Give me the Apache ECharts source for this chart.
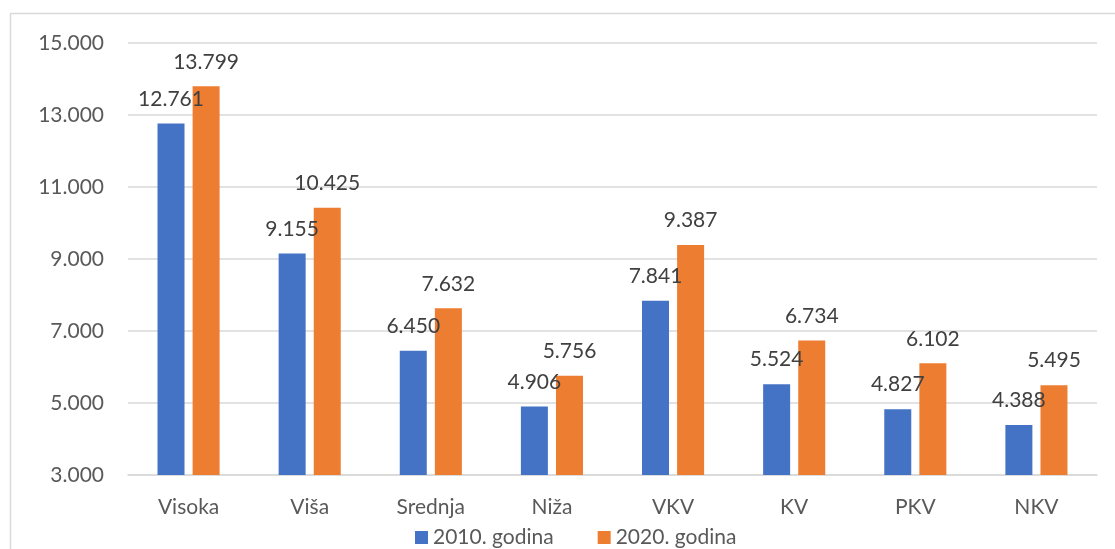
<!DOCTYPE html>
<html>
<head>
<meta charset="utf-8">
<script src="https://cdn.jsdelivr.net/npm/echarts@6/dist/echarts.min.js"></script>
<style>
  html, body { margin: 0; padding: 0; background: #fff; }
  #chart { width: 1115px; height: 549px; }
</style>
</head>
<body>
<div id="chart"></div>
<script>
const categories = ['Visoka', 'Viša', 'Srednja', 'Niža', 'VKV', 'KV', 'PKV', 'NKV']
const values2010 = [12761, 9155, 6450, 4906, 7841, 5524, 4827, 4388]
const values2020 = [13799, 10425, 7632, 5756, 9387, 6734, 6102, 5495]
const seriesNames = ['2010. godina', '2020. godina']

// tocka kao separator tisucica
const fmt = (v) => String(v).replace(/\B(?=(\d{3})+(?!\d))/g, '.')

const FONT = 'Lato'
const TEXT = '#595959'

const chart = echarts.init(document.getElementById('chart'))

const barLabel = {
  show: true,
  position: 'top',
  distance: 14,
  color: '#404040',
  fontFamily: FONT,
  fontSize: 21,
  formatter: (p) => fmt(p.value),
}

chart.setOption({
  animation: false,
  graphic: [
    {
      type: 'rect',
      shape: { x: 10.5, y: 13.5, width: 1200, height: 600 },
      style: { fill: 'none', stroke: '#d9d9d9', lineWidth: 1.5 },
      silent: true,
    },
  ],
  grid: { left: 128, right: 18, top: 43, bottom: 74 },
  legend: {
    left: 410,
    top: 522,
    itemWidth: 13,
    itemHeight: 13,
    itemGap: 44,
    icon: 'rect',
    textStyle: { color: TEXT, fontFamily: FONT, fontSize: 21 },
    data: seriesNames,
  },
  xAxis: {
    type: 'category',
    data: categories,
    axisLine: { show: true, lineStyle: { color: '#d9d9d9', width: 1.5 } },
    axisTick: { show: false },
    axisLabel: { color: TEXT, fontFamily: FONT, fontSize: 21, margin: 22 },
  },
  yAxis: {
    type: 'value',
    min: 3000,
    max: 15000,
    interval: 2000,
    axisLine: { show: false },
    axisTick: { show: false },
    axisLabel: {
      color: TEXT,
      fontFamily: FONT,
      fontSize: 21,
      margin: 24,
      formatter: (v) => fmt(v),
    },
    splitLine: { lineStyle: { color: '#d9d9d9', width: 1.5 } },
  },
  series: [
    {
      name: seriesNames[0],
      type: 'bar',
      data: values2010,
      barWidth: 27,
      barGap: '30%',
      itemStyle: { color: '#4472C4' },
      label: barLabel,
    },
    {
      name: seriesNames[1],
      type: 'bar',
      data: values2020,
      barWidth: 27,
      barGap: '30%',
      itemStyle: { color: '#ED7D31' },
      label: barLabel,
    },
  ],
})
</script>
</body>
</html>
